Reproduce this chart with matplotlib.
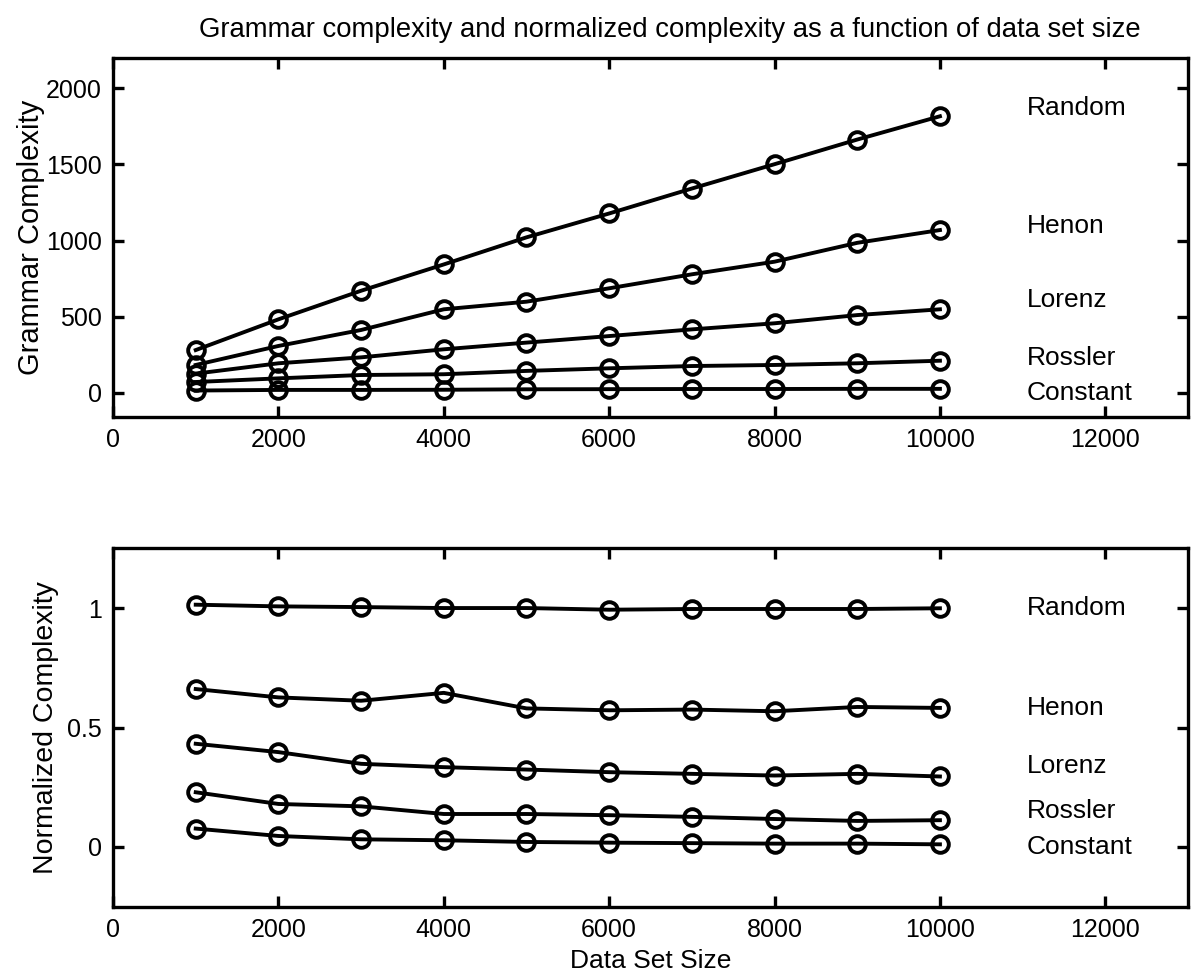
import matplotlib
matplotlib.use("Agg")
import matplotlib.pyplot as plt

plt.rcParams["font.family"] = ["Liberation Sans", "DejaVu Sans"]

# data set sizes
sizes = [1000, 2000, 3000, 4000, 5000, 6000, 7000, 8000, 9000, 10000]

# grammar complexity
gc_random = [280, 482, 670, 843, 1021, 1178, 1342, 1502, 1664, 1817]
gc_henon = [182, 307, 412, 548, 598, 686, 778, 861, 985, 1069]
gc_lorenz = [125, 193, 232, 285, 329, 372, 416, 456, 510, 548]
gc_rossler = [70, 94, 116, 121, 143, 160, 175, 182, 193, 210]
gc_constant = [14, 18, 18, 19, 22, 23, 24, 24, 25, 25]

# normalized complexity
nc_random = [1.014, 1.007, 1.004, 1.000, 1.000, 0.993, 0.996, 0.996, 0.996, 0.999]
nc_henon = [0.661, 0.626, 0.612, 0.645, 0.580, 0.572, 0.575, 0.568, 0.586, 0.582]
nc_lorenz = [0.432, 0.397, 0.348, 0.334, 0.324, 0.313, 0.306, 0.299, 0.306, 0.295]
nc_rossler = [0.229, 0.180, 0.170, 0.138, 0.138, 0.133, 0.126, 0.117, 0.109, 0.112]
nc_constant = [0.077, 0.046, 0.032, 0.028, 0.021, 0.018, 0.016, 0.014, 0.014, 0.011]

names = ["Random", "Henon", "Lorenz", "Rossler", "Constant"]
top_label_y = [1870, 1095, 610, 228, 0]
bottom_label_y = [1.0, 0.58, 0.34, 0.15, 0.0]

TICK_FS = 18
TEXT_FS = 19

fig = plt.figure(figsize=(12, 9.8), dpi=100)
ax_top = fig.add_axes([0.0942, 0.5745, 0.8958, 0.3663])
ax_bot = fig.add_axes([0.0942, 0.0748, 0.8958, 0.3657])


def style_axes(ax):
    for sp in ax.spines.values():
        sp.set_linewidth(2.4)
    ax.tick_params(direction="in", length=8, width=2.4, top=True, right=True,
                   labelsize=TICK_FS, pad=8)


def draw(ax, series):
    for ys in series:
        ax.plot(sizes, ys, color="black", linewidth=2.8, marker="o",
                markersize=12, markerfacecolor="none", markeredgewidth=2.8)


draw(ax_top, [gc_random, gc_henon, gc_lorenz, gc_rossler, gc_constant])
for name, yl in zip(names, top_label_y):
    ax_top.text(11050, yl, name, fontsize=TEXT_FS, va="center", ha="left")
ax_top.set_xlim(0, 13000)
ax_top.set_ylim(-160, 2200)
ax_top.set_xticks([0, 2000, 4000, 6000, 8000, 10000, 12000])
ax_top.set_yticks([0, 500, 1000, 1500, 2000])
ax_top.set_ylabel("Grammar Complexity", fontsize=21, labelpad=1)
style_axes(ax_top)

draw(ax_bot, [nc_random, nc_henon, nc_lorenz, nc_rossler, nc_constant])
for name, yl in zip(names, bottom_label_y):
    ax_bot.text(11050, yl, name, fontsize=TEXT_FS, va="center", ha="left")
ax_bot.set_xlim(0, 13000)
ax_bot.set_ylim(-0.25, 1.25)
ax_bot.set_xticks([0, 2000, 4000, 6000, 8000, 10000, 12000])
ax_bot.set_yticks([0, 0.5, 1])
ax_bot.set_yticklabels(["0", "0.5", "1"])
ax_bot.set_xlabel("Data Set Size", fontsize=TEXT_FS, labelpad=5)
ax_bot.set_ylabel("Normalized Complexity", fontsize=20.5, labelpad=6)
style_axes(ax_bot)

fig.text(0.558, 0.969,
         "Grammar complexity and normalized complexity as a function of data set size",
         fontsize=19.8, ha="center", va="center")

fig.savefig("out.png", dpi=100)
